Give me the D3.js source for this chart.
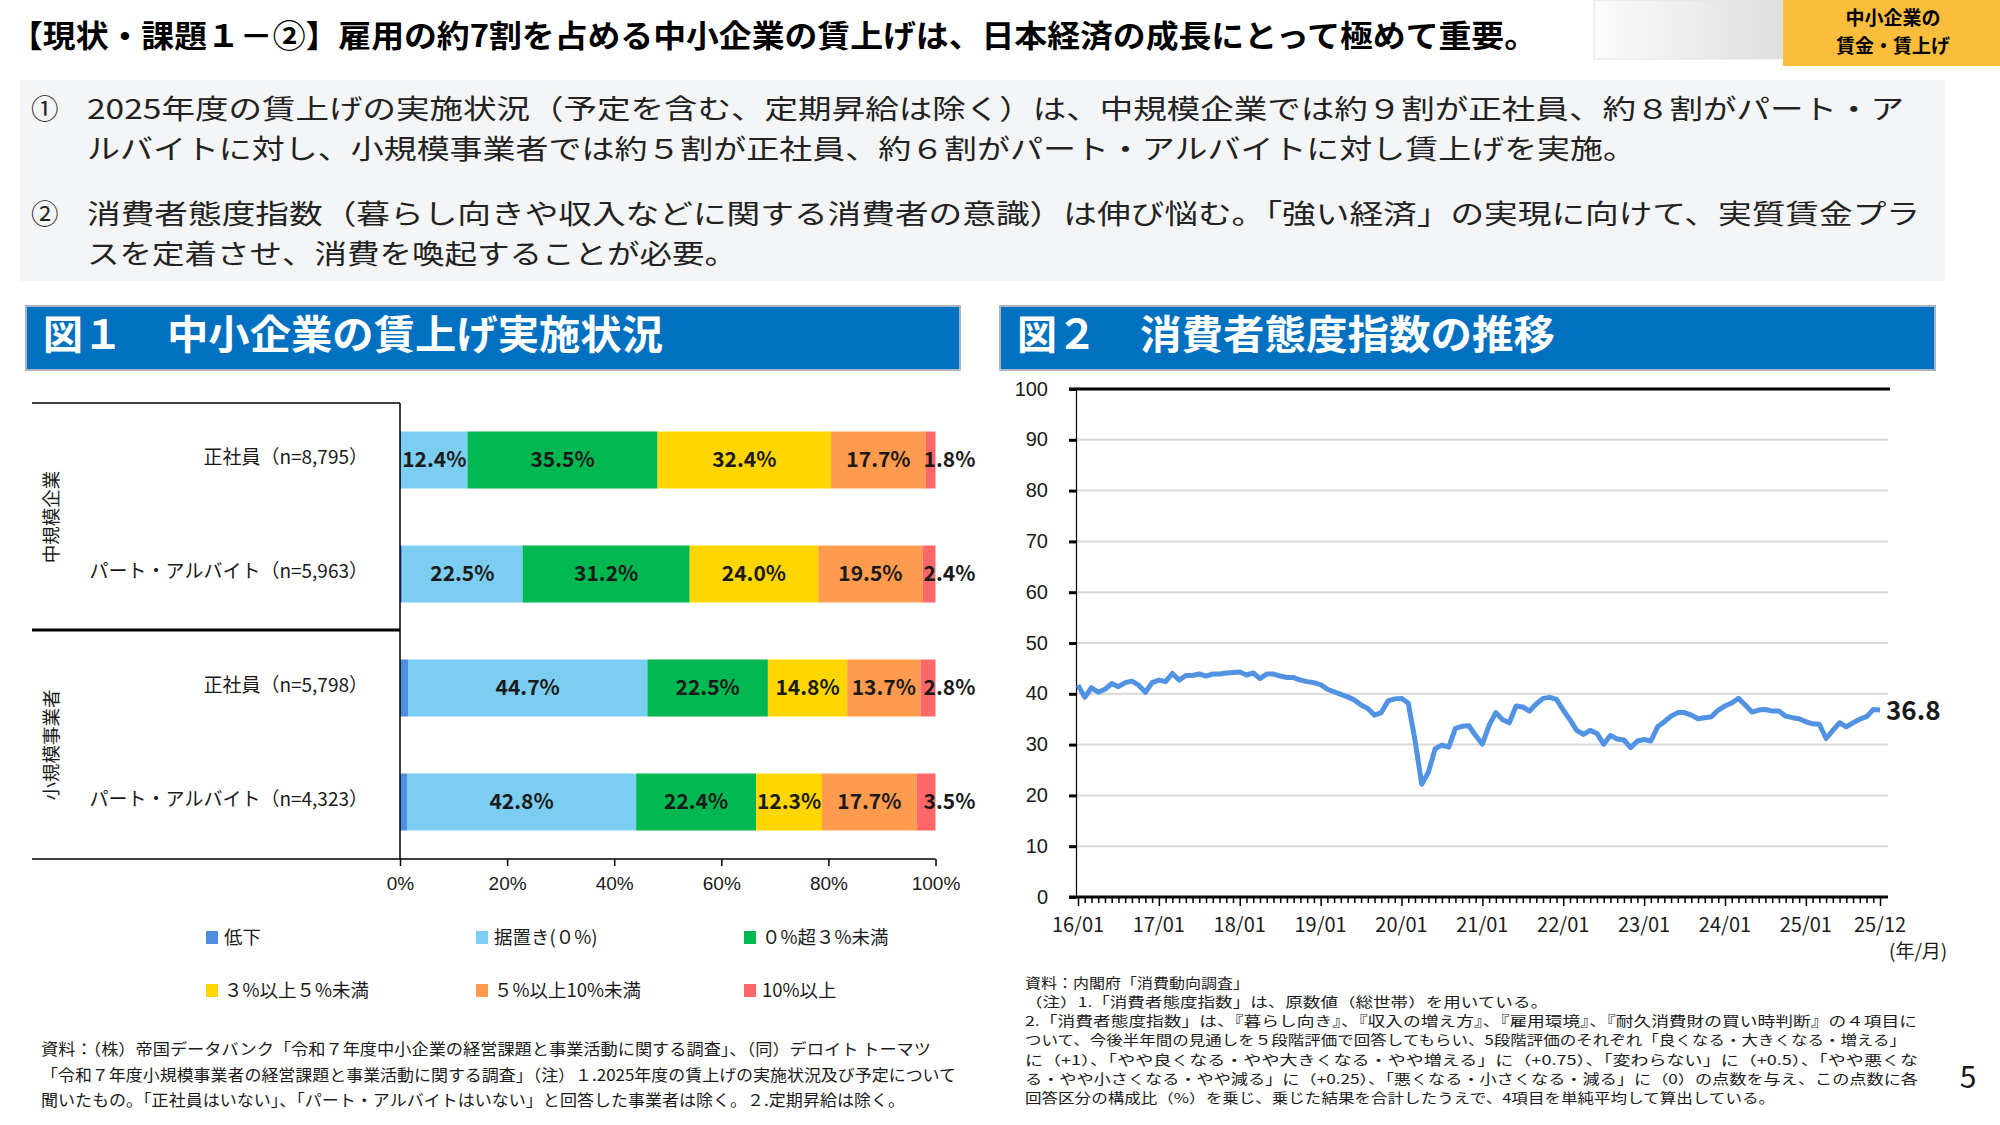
<!DOCTYPE html>
<html>
<head>
<meta charset="utf-8">
<script src="https://cdn.jsdelivr.net/npm/d3@7"></script>
<style>
  body { margin: 0; background: #fff; }
  svg { display: block; font-family: "Noto Sans CJK JP", "Noto Sans", sans-serif; }
</style>
</head>
<body>
<div id="page"></div>
<script>
// ---- data: figure 1 (wage increase status) ----
var rowLabels = ["正社員（n=8,795）", "パート・アルバイト（n=5,963）", "正社員（n=5,798）", "パート・アルバイト（n=4,323）"];
var groupLabels = ["中規模企業", "小規模事業者"];
var wageKeys = ["低下", "据置き(０%)", "０%超３%未満", "３%以上５%未満", "５%以上10%未満", "10%以上"];
var wageColors = ["#4f8ee0", "#7ccdf2", "#00b852", "#ffd600", "#ff9b4e", "#ff6868"];
var decline = [0.2, 0.4, 1.5, 1.3];
var flat = [12.4, 22.5, 44.7, 42.8];
var under3 = [35.5, 31.2, 22.5, 22.4];
var from3to5 = [32.4, 24.0, 14.8, 12.3];
var from5to10 = [17.7, 19.5, 13.7, 17.7];
var over10 = [1.8, 2.4, 2.8, 3.5];
var pctTicks = [0, 20, 40, 60, 80, 100];

// ---- data: figure 2 (consumer confidence index, monthly 2016/01 - 2025/12) ----
var cciValues = [
  41.7, 39.3, 41.2, 40.3, 40.9, 42.0, 41.4, 42.2, 42.5, 41.7, 40.3, 42.2,
  42.7, 42.4, 44.0, 42.7, 43.6, 43.6, 43.9, 43.5, 43.9, 43.9, 44.1, 44.2,
  44.3, 43.7, 44.1, 43.0, 43.9, 43.9, 43.5, 43.2, 43.2, 42.7, 42.4, 42.2,
  41.8, 40.9, 40.4, 39.9, 39.4, 38.8, 37.8, 37.1, 35.8, 36.3, 38.6, 39.0,
  39.1, 38.2, 30.9, 22.2, 24.6, 29.2, 29.9, 29.5, 33.2, 33.6, 33.7, 31.8,
  30.1, 33.8, 36.3, 34.9, 34.3, 37.6, 37.4, 36.6, 38.0, 39.1, 39.3, 38.9,
  36.8, 34.9, 32.8, 32.0, 32.8, 32.2, 30.1, 31.8, 31.1, 30.9, 29.4, 30.7,
  31.0, 30.7, 33.5, 34.5, 35.6, 36.3, 36.3, 35.8, 35.1, 35.3, 35.5, 36.8,
  37.6, 38.2, 39.1, 37.8, 36.4, 36.8, 36.9, 36.6, 36.6, 35.6, 35.3, 35.1,
  34.5, 34.1, 34.0, 31.2, 32.8, 34.3, 33.5, 34.3, 35.0, 35.5, 36.9, 36.8
];
var xTickLabels = ["16/01", "17/01", "18/01", "19/01", "20/01", "21/01", "22/01", "23/01", "24/01", "25/01", "25/12"];
var xTickMonths = [0, 12, 24, 36, 48, 60, 72, 84, 96, 108, 119];
var yTicks = [0, 10, 20, 30, 40, 50, 60, 70, 80, 90, 100];

// ---- texts ----
var title = "【現状・課題１－②】雇用の約7割を占める中小企業の賃上げは、日本経済の成長にとって極めて重要。";
var summary = [
  {mark: "①", lines: ["2025年度の賃上げの実施状況（予定を含む、定期昇給は除く）は、中規模企業では約９割が正社員、約８割がパート・ア",
                      "ルバイトに対し、小規模事業者では約５割が正社員、約６割がパート・アルバイトに対し賃上げを実施。"], w: [1817, 1549]},
  {mark: "②", lines: ["消費者態度指数（暮らし向きや収入などに関する消費者の意識）は伸び悩む。「強い経済」の実現に向けて、実質賃金プラ",
                      "スを定着させ、消費を喚起することが必要。"], w: [1833, 650]}
];
var leftNotes = [
  "資料：（株）帝国データバンク「令和７年度中小企業の経営課題と事業活動に関する調査」、（同）デロイト トーマツ",
  "「令和７年度小規模事業者の経営課題と事業活動に関する調査」（注）１.2025年度の賃上げの実施状況及び予定について",
  "聞いたもの。「正社員はいない」、「パート・アルバイトはいない」と回答した事業者は除く。２.定期昇給は除く。"
];
var leftNoteW = [890, 915, 864];
var rightNotes = [
  "資料：内閣府「消費動向調査」",
  "（注）1.「消費者態度指数」は、原数値（総世帯）を用いている。",
  "2.「消費者態度指数」は、『暮らし向き』、『収入の増え方』、『雇用環境』、『耐久消費財の買い時判断』の４項目に",
  "ついて、今後半年間の見通しを５段階評価で回答してもらい、5段階評価のそれぞれ「良くなる・大きくなる・増える」",
  "に（+1）、「やや良くなる・やや大きくなる・やや増える」に（+0.75）、「変わらない」に（+0.5）、「やや悪くな",
  "る・やや小さくなる・やや減る」に（+0.25）、「悪くなる・小さくなる・減る」に（0）の点数を与え、この点数に各",
  "回答区分の構成比（%）を乗じ、乗じた結果を合計したうえで、4項目を単純平均して算出している。"
];
var rightNoteW = [224, 523, 892, 881, 893, 893, 750];

// stretch / squeeze a text (glyphs too) to a measured width
function fit(sel, w) {
  sel.attr("textLength", w).attr("lengthAdjust", "spacingAndGlyphs");
}

var svg = d3.select("#page").append("svg")
    .attr("width", 2000)
    .attr("height", 1125);

// ---- page header ----
fit(svg.append("text").attr("x", 10).attr("y", 33).attr("dominant-baseline", "central")
    .attr("font-size", 31).attr("font-weight", "bold").attr("fill", "#000").text(title), 1527);

var grad = svg.append("defs").append("linearGradient").attr("id", "tabgrad");
grad.append("stop").attr("offset", "0%").attr("stop-color", "#fbfbfb");
grad.append("stop").attr("offset", "100%").attr("stop-color", "#dedede");
svg.append("rect").attr("x", 1594).attr("y", 0).attr("width", 189).attr("height", 59)
    .attr("fill", "url(#tabgrad)").attr("stroke", "#e2e2e2");
svg.append("rect").attr("x", 1783).attr("y", 0).attr("width", 217).attr("height", 66).attr("fill", "#fbbe3c");
svg.selectAll(".tab").data(["中小企業の", "賃金・賃上げ"]).enter().append("text")
    .attr("x", 1893).attr("y", function(d, i) { return 16 + i * 28; })
    .attr("text-anchor", "middle").attr("dominant-baseline", "central")
    .attr("font-size", 19).attr("font-weight", "bold").text(function(d) { return d; });

// ---- summary box ----
svg.append("rect").attr("x", 20).attr("y", 80).attr("width", 1925).attr("height", 201).attr("fill", "#f4f5f6");
summary.forEach(function(s, k) {
  var y0 = 107 + k * 105;
  svg.append("text").attr("x", 31).attr("y", y0).attr("dominant-baseline", "central")
      .attr("font-size", 27.5).attr("fill", "#222").text(s.mark);
  s.lines.forEach(function(line, j) {
    fit(svg.append("text").attr("x", 87).attr("y", y0 + j * 40).attr("dominant-baseline", "central")
        .attr("font-size", 27.5).attr("fill", "#222").text(line), s.w[j]);
  });
});

// ---- figure headers ----
function panelHeader(x, w, num, label, labelX, labelW) {
  svg.append("rect").attr("x", x).attr("y", 306).attr("width", w).attr("height", 64)
      .attr("fill", "#0070c0").attr("stroke", "#a9b4bf").attr("stroke-width", 2);
  svg.append("text").attr("x", x + 17).attr("y", 332).attr("dominant-baseline", "central")
      .attr("font-size", 40).attr("font-weight", "bold").attr("fill", "#fff").text(num);
  fit(svg.append("text").attr("x", labelX).attr("y", 332).attr("dominant-baseline", "central")
      .attr("font-size", 40).attr("font-weight", "bold").attr("fill", "#fff").text(label), labelW);
}
panelHeader(26, 934, "図１", "中小企業の賃上げ実施状況", 167, 496);
panelHeader(1000, 935, "図２", "消費者態度指数の推移", 1140, 415);

// ================= figure 1: stacked bars =================
var rows = rowLabels.map(function(label, i) {
  return {label: label, "低下": decline[i], "据置き(０%)": flat[i], "０%超３%未満": under3[i],
          "３%以上５%未満": from3to5[i], "５%以上10%未満": from5to10[i], "10%以上": over10[i]};
});

var xBar = d3.scaleLinear().domain([0, 100]).range([400, 935.5]);
var yBar = d3.scaleBand().domain(rowLabels).range([403, 859]).paddingInner(0.5).paddingOuter(0.25);
var color = d3.scaleOrdinal().domain(wageKeys).range(wageColors);

var stacked = d3.stack().keys(wageKeys)(rows);

var bars = svg.append("g");
bars.selectAll(".layer")
    .data(stacked)
  .enter().append("g")
    .attr("fill", function(d) { return color(d.key); })
  .selectAll("rect")
    .data(function(d) { return d; })
  .enter().append("rect")
    .attr("x", function(d) { return xBar(d[0]); })
    .attr("width", function(d) { return xBar(d[1]) - xBar(d[0]); })
    .attr("y", function(d) { return yBar(d.data.label); })
    .attr("height", yBar.bandwidth());

// value labels (skip 低下, put 10%以上 outside the bar)
stacked.forEach(function(layer, k) {
  if (k === 0) return;
  bars.selectAll(".lab" + k)
      .data(layer)
    .enter().append("text")
      .attr("x", function(d) {
        return k === wageKeys.length - 1 ? xBar(100) + 14 : xBar((d[0] + d[1]) / 2);
      })
      .attr("y", function(d) { return yBar(d.data.label) + yBar.bandwidth() / 2 - 2; })
      .attr("text-anchor", "middle").attr("dominant-baseline", "central")
      .attr("font-size", 21).attr("font-weight", "bold").attr("fill", "#1a1a1a")
      .text(function(d) { return d.data[layer.key].toFixed(1) + "%"; });
});

// table frame at left
var frame = svg.append("g").attr("stroke", "#000").attr("fill", "none");
frame.append("line").attr("x1", 32).attr("x2", xBar(0)).attr("y1", 403).attr("y2", 403).attr("stroke-width", 1.5);
frame.append("line").attr("x1", 32).attr("x2", xBar(0)).attr("y1", 630).attr("y2", 630).attr("stroke-width", 3);
frame.append("line").attr("x1", xBar(0)).attr("x2", xBar(0)).attr("y1", 403).attr("y2", 859).attr("stroke-width", 1.5);
frame.append("line").attr("x1", 32).attr("x2", xBar(100)).attr("y1", 859).attr("y2", 859).attr("stroke-width", 1.5);

// row labels
svg.selectAll(".rowlab").data(rowLabels).enter().append("text")
    .attr("x", 368).attr("y", function(d) { return yBar(d) + yBar.bandwidth() / 2 - 5; })
    .attr("text-anchor", "end").attr("dominant-baseline", "central")
    .attr("font-size", 19).attr("fill", "#1a1a1a").text(function(d) { return d; });

// group labels (vertical)
groupLabels.forEach(function(g, i) {
  var cy = (yBar(rowLabels[i * 2]) + yBar(rowLabels[i * 2 + 1]) + yBar.bandwidth()) / 2;
  svg.append("text").attr("transform", "translate(50," + cy + ") rotate(-90)")
      .attr("text-anchor", "middle").attr("dominant-baseline", "central")
      .attr("font-size", 18.5).attr("fill", "#1a1a1a").text(g);
});

// percent axis
var pctAxis = svg.append("g").attr("transform", "translate(0,859)")
    .call(d3.axisBottom(xBar).tickValues(pctTicks).tickSize(7).tickSizeOuter(0).tickPadding(11)
      .tickFormat(function(d) { return d + "%"; }));
pctAxis.select(".domain").remove();
pctAxis.selectAll("line").attr("stroke", "#000").attr("stroke-width", 1.5);
pctAxis.selectAll("text").attr("font-size", 19).attr("fill", "#1a1a1a").attr("font-family", null);

// legend
var legX = [206, 476, 744], legY = [936, 989];
var legend = svg.selectAll(".leg").data(wageKeys).enter().append("g")
    .attr("transform", function(d, i) { return "translate(" + legX[i % 3] + "," + legY[Math.floor(i / 3)] + ")"; });
legend.append("rect").attr("x", 0).attr("y", -5).attr("width", 12).attr("height", 13)
    .attr("fill", function(d) { return color(d); });
legend.append("text").attr("x", 18).attr("y", 0).attr("dominant-baseline", "central")
    .attr("font-size", 18.5).attr("fill", "#1a1a1a").text(function(d) { return d; });

// left notes
leftNotes.forEach(function(t, i) {
  fit(svg.append("text").attr("x", 41).attr("y", 1048 + i * 25.5).attr("dominant-baseline", "central")
      .attr("font-size", 16).attr("fill", "#1a1a1a").text(t), leftNoteW[i]);
});

// ================= figure 2: line chart =================
var xLine = d3.scaleLinear().domain([0, cciValues.length - 1]).range([1078, 1880]);
var yLine = d3.scaleLinear().domain([0, 100]).range([897, 389]);

// gridlines
svg.append("g").selectAll("line")
    .data(yTicks.filter(function(v) { return v > 0 && v < 100; }))
  .enter().append("line")
    .attr("x1", 1076).attr("x2", 1888)
    .attr("y1", function(d) { return yLine(d); }).attr("y2", function(d) { return yLine(d); })
    .attr("stroke", "#d9d9d9").attr("stroke-width", 2);

// top border line at 100
svg.append("line").attr("x1", 1069).attr("x2", 1890).attr("y1", yLine(100)).attr("y2", yLine(100))
    .attr("stroke", "#000").attr("stroke-width", 3);

// y axis
var yAxis = svg.append("g").attr("transform", "translate(1076,0)")
    .call(d3.axisLeft(yLine).tickValues(yTicks).tickSize(7).tickSizeOuter(0).tickPadding(21));
yAxis.select(".domain").attr("stroke", "#000").attr("stroke-width", 1.2);
yAxis.selectAll(".tick line").attr("stroke", "#000").attr("stroke-width", 3);
yAxis.selectAll("text").attr("font-size", 20).attr("fill", "#1a1a1a").attr("font-family", null)
    .attr("dy", "0.3em");

// x axis: monthly minor ticks, yearly labels
var xAxis = svg.append("g").attr("transform", "translate(0," + yLine(0) + ")")
    .call(d3.axisBottom(xLine).tickValues(d3.range(cciValues.length)).tickSize(6).tickSizeOuter(0).tickFormat(""));
xAxis.select(".domain").remove();
xAxis.selectAll(".tick line").attr("stroke", "#000").attr("stroke-width", 1.5)
    .attr("y2", function(d) { return xTickMonths.indexOf(d) >= 0 ? 9 : 6; });
svg.append("line").attr("x1", 1069).attr("x2", 1888).attr("y1", yLine(0)).attr("y2", yLine(0))
    .attr("stroke", "#000").attr("stroke-width", 3);
svg.append("g").selectAll("text").data(xTickMonths).enter().append("text")
    .attr("x", function(d) { return xLine(d); }).attr("y", 923)
    .attr("text-anchor", "middle").attr("dominant-baseline", "central")
    .attr("font-size", 20).attr("fill", "#1a1a1a")
    .text(function(d, i) { return xTickLabels[i]; });
svg.append("text").attr("x", 1889).attr("y", 949).attr("dominant-baseline", "central")
    .attr("font-size", 19).attr("fill", "#1a1a1a").text("(年/月)");

// the series
var line = d3.line()
    .x(function(d, i) { return xLine(i); })
    .y(function(d) { return yLine(d); });
svg.append("path").datum(cciValues)
    .attr("d", line).attr("fill", "none")
    .attr("stroke", "#5292e2").attr("stroke-width", 5).attr("stroke-linejoin", "round");

// last value label
var lastIdx = cciValues.length - 1;
svg.append("text").attr("x", xLine(lastIdx) + 6).attr("y", yLine(cciValues[lastIdx]) - 2)
    .attr("dominant-baseline", "central").attr("font-size", 26).attr("font-weight", "bold")
    .attr("fill", "#1a1a1a").text(cciValues[lastIdx].toFixed(1));

// right notes
rightNotes.forEach(function(t, i) {
  fit(svg.append("text").attr("x", 1025).attr("y", 982 + i * 19.3).attr("dominant-baseline", "central")
      .attr("font-size", 13.2).attr("fill", "#1a1a1a").text(t), rightNoteW[i]);
});

// page number
svg.append("text").attr("x", 1968).attr("y", 1075).attr("text-anchor", "middle").attr("dominant-baseline", "central")
    .attr("font-size", 30).attr("fill", "#1a1a1a").text("5");
</script>
</body>
</html>
